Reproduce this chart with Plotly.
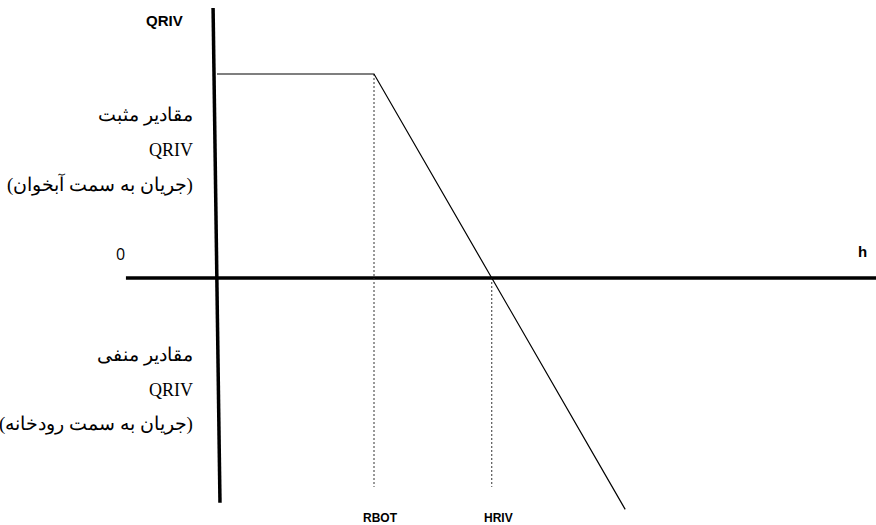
import plotly.graph_objects as go

# Schematic data (abstract units)
h_curve = [0.0, 4.0, 7.0, 10.4]          # h values of the QRIV relation
q_curve = [5.0, 5.0, 0.0, -5.67]         # QRIV values
RBOT = 4.0
HRIV = 7.0
QMAX = 5.0
dotted_bottom = -5.12

h_axis_x = [-2.32, 16.8]
h_axis_y = [0.0, 0.0]
q_axis_x = [-0.10, 0.076]
q_axis_y = [6.62, -5.51]

tick_labels = ["RBOT", "HRIV"]
pos_text = ["مقادیر مثبت", "QRIV", "(جریان به سمت آبخوان)"]
neg_text = ["مقادیر منفی", "QRIV", "(جریان به سمت رودخانه)"]

fig = go.Figure()

# axes
fig.add_trace(go.Scatter(x=h_axis_x, y=h_axis_y, mode="lines",
                         line=dict(color="black", width=3.5), hoverinfo="skip"))
fig.add_trace(go.Scatter(x=q_axis_x, y=q_axis_y, mode="lines",
                         line=dict(color="black", width=3.5), hoverinfo="skip"))
# dotted guides
fig.add_trace(go.Scatter(x=[RBOT, RBOT], y=[QMAX, dotted_bottom], mode="lines",
                         line=dict(color="#333333", width=1, dash="2px,2px"), hoverinfo="skip"))
fig.add_trace(go.Scatter(x=[HRIV, HRIV], y=[0, dotted_bottom], mode="lines",
                         line=dict(color="#333333", width=1, dash="2px,2px"), hoverinfo="skip"))
# relation curve
fig.add_trace(go.Scatter(x=h_curve, y=q_curve, mode="lines",
                         line=dict(color="black", width=1.2), hoverinfo="skip"))

ann = []
bold = dict(family="Arial, Liberation Sans, sans-serif", color="black")
ann.append(dict(x=-1.325, y=6.3, text="<b>QRIV</b>", showarrow=False,
                font=dict(size=15, **bold)))
ann.append(dict(x=-2.47, y=0.59, text="0", showarrow=False,
                font=dict(size=16, family="Open Sans, Liberation Sans, sans-serif", color="black")))
ann.append(dict(x=16.45, y=0.64, text="<b>h</b>", showarrow=False,
                font=dict(size=15, **bold)))
for lbl, xv in zip(tick_labels, [RBOT + 0.16, HRIV + 0.18]):
    ann.append(dict(x=xv, y=-5.88, text="<b>%s</b>" % lbl, showarrow=False,
                    font=dict(size=12, **bold)))

serif_family = "Liberation Serif, Times New Roman, DejaVu Serif, serif"
for block, base in ((pos_text, 115), (neg_text, 355)):
    for i, t in enumerate(block):
        size = 18 if t == "QRIV" else 19
        ann.append(dict(x=-0.55, y=(278 - (base + 34.5 * i)) / 40.8, text=t, showarrow=False,
                        xanchor="right",
                        font=dict(family=serif_family, color="black", size=size)))

fig.update_layout(
    width=876, height=525,
    margin=dict(l=0, r=0, t=0, b=0),
    paper_bgcolor="white", plot_bgcolor="white",
    showlegend=False,
    xaxis=dict(range=[-217 / 39.25, (876 - 217) / 39.25], visible=False, fixedrange=True),
    yaxis=dict(range=[-(525 - 278) / 40.8, 278 / 40.8], visible=False, fixedrange=True),
    annotations=ann,
)

fig.write_html("out.html", config={"displayModeBar": False},
               post_script="document.body.style.margin='0';document.body.style.overflow='hidden';")
